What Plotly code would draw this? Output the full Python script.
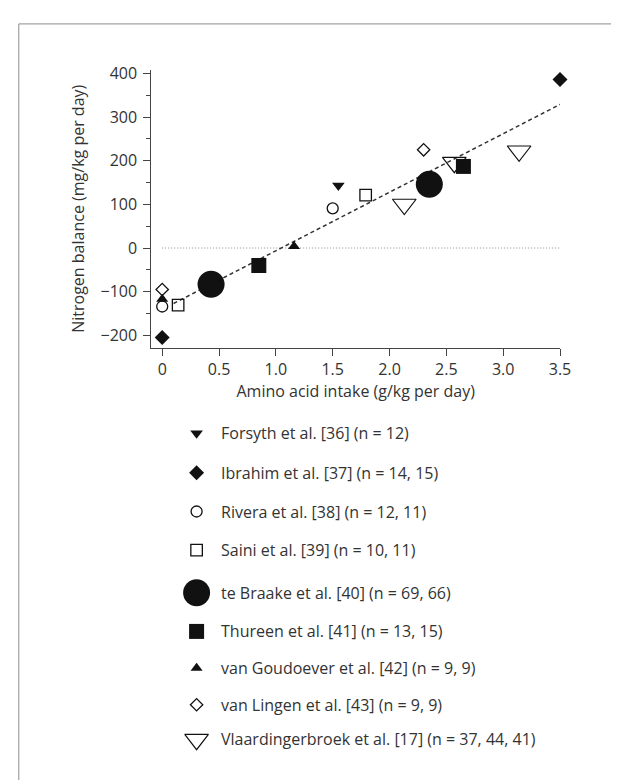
import plotly.graph_objects as go

# ---------------- data ----------------
studies = [
    "Forsyth et al. [36] (n = 12)",
    "Ibrahim et al. [37] (n = 14, 15)",
    "Rivera et al. [38] (n = 12, 11)",
    "Saini et al. [39] (n = 10, 11)",
    "te Braake et al. [40] (n = 69, 66)",
    "Thureen et al. [41] (n = 13, 15)",
    "van Goudoever et al. [42] (n = 9, 9)",
    "van Lingen et al. [43] (n = 9, 9)",
    "Vlaardingerbroek et al. [17] (n = 37, 44, 41)",
]
forsyth_x = [1.55]
forsyth_y = [143]
ibrahim_x = [0.0, 3.5]
ibrahim_y = [-205, 386]
rivera_x = [0.0, 1.5]
rivera_y = [-134, 91]
saini_x = [0.14, 1.79]
saini_y = [-131, 121]
tebraake_x = [0.43, 2.35]
tebraake_y = [-83, 146]
thureen_x = [0.85, 2.65]
thureen_y = [-40, 187]
vangoudoever_x = [0.0, 1.16]
vangoudoever_y = [-117, 4]
vanlingen_x = [0.0, 2.30]
vanlingen_y = [-95, 225]
vlaardingerbroek_x = [2.13, 2.57, 3.14]
vlaardingerbroek_y = [100, 196, 222]

reg_x = [0.1, 3.5]
reg_y = [-127, 329]
zero_x = [0.0, 3.5]
zero_y = [0, 0]

x_tickvals = [0, 0.5, 1.0, 1.5, 2.0, 2.5, 3.0, 3.5]
x_ticktext = ["0", "0.5", "1.0", "1.5", "2.0", "2.5", "3.0", "3.5"]
y_tickvals = [-200, -100, 0, 100, 200, 300, 400]
y_minor_tickvals = [-150, -50, 50, 150, 250, 350]

series_x = [forsyth_x, ibrahim_x, rivera_x, saini_x, tebraake_x, thureen_x,
            vangoudoever_x, vanlingen_x, vlaardingerbroek_x]
series_y = [forsyth_y, ibrahim_y, rivera_y, saini_y, tebraake_y, thureen_y,
            vangoudoever_y, vanlingen_y, vlaardingerbroek_y]

# ---------------- styles ----------------
INK = "#111111"
TXT = "#333333"
FONT = "Open Sans"
styles = [
    dict(symbol="triangle-down", size=11, color=INK, line=dict(width=0)),
    dict(symbol="diamond", size=11.5, color=INK, line=dict(width=0)),
    dict(symbol="circle-open", size=11, color=INK, line=dict(width=1.3, color=INK)),
    dict(symbol="square-open", size=11.5, color=INK, line=dict(width=1.3, color=INK)),
    dict(symbol="circle", size=27, color=INK, line=dict(width=0)),
    dict(symbol="square", size=15, color=INK, line=dict(width=0)),
    dict(symbol="triangle-up", size=10.5, color=INK, line=dict(width=0)),
    dict(symbol="diamond-open", size=9.5, color=INK, line=dict(width=1.3, color=INK)),
    dict(symbol="triangle-down-open", size=20.5, color=INK, line=dict(width=1.2, color=INK)),
]

W, H = 619, 780
plot_left, plot_right, plot_top, plot_bottom = 146, 562, 55, 336
legend_marker_x = 192
legend_text_x = 215
legend_rows = [422, 462, 501, 540, 583, 622, 659, 696, 731]

fig = go.Figure()

# zero reference line
fig.add_trace(go.Scatter(x=zero_x, y=zero_y, mode="lines",
                         line=dict(color="#8a8a8a", width=1, dash="1px,2px"),
                         hoverinfo="skip", showlegend=False))
# regression line
fig.add_trace(go.Scatter(x=reg_x, y=reg_y, mode="lines",
                         line=dict(color="#333333", width=1.5, dash="4px,3px"),
                         hoverinfo="skip", showlegend=False))

for name, xs, ys, st in zip(studies, series_x, series_y, styles):
    fig.add_trace(go.Scatter(x=xs, y=ys, mode="markers", name=name,
                             marker=st, cliponaxis=False, showlegend=False))

# custom legend (hidden pixel axis)
for name, st, ry in zip(studies, styles, legend_rows):
    fig.add_trace(go.Scatter(x=[legend_marker_x], y=[ry], mode="markers",
                             marker=st, xaxis="x2", yaxis="y2",
                             cliponaxis=False, showlegend=False, hoverinfo="skip"))
    fig.add_annotation(x=legend_text_x, y=ry, xref="x2", yref="y2", text=name,
                       showarrow=False, xanchor="left", yanchor="middle",
                       font=dict(family=FONT, size=16, color=TXT))

axis_common = dict(showline=True, linecolor="#444444", linewidth=1.2,
                   ticks="outside", ticklen=7, tickwidth=1.2, tickcolor="#444444",
                   showgrid=False, zeroline=False,
                   tickfont=dict(family=FONT, size=16, color=TXT))

fig.update_layout(
    width=W, height=H,
    margin=dict(l=0, r=0, t=0, b=0),
    paper_bgcolor="white", plot_bgcolor="rgba(0,0,0,0)",
    font=dict(family=FONT, size=16, color=TXT),
    xaxis=dict(domain=[plot_left / W, plot_right / W], range=[-0.095, 3.5],
               tickvals=x_tickvals, ticktext=x_ticktext,
               title=dict(text="Amino acid intake (g/kg per day)",
                          font=dict(family=FONT, size=16, color=TXT), standoff=6),
               anchor="y", **axis_common),
    yaxis=dict(domain=[(H - plot_bottom) / H, (H - plot_top) / H], range=[-229, 409],
               tickvals=y_tickvals, ticklabelstandoff=3,
               minor=dict(tickvals=y_minor_tickvals, ticks="outside",
                          ticklen=4, tickwidth=1.2, tickcolor="#444444"),
               title=dict(text="Nitrogen balance (mg/kg per day)",
                          font=dict(family=FONT, size=16, color=TXT), standoff=11),
               anchor="x", **axis_common),
    xaxis2=dict(domain=[0, 1], range=[0, W], visible=False, anchor="y2"),
    yaxis2=dict(domain=[0, 1], range=[H, 0], visible=False, anchor="x2"),
    shapes=[
        dict(type="line", xref="paper", yref="paper", x0=11 / W, x1=1.0,
             y0=(H - 9) / H, y1=(H - 9) / H, line=dict(color="#8c8c8c", width=1)),
        dict(type="line", xref="paper", yref="paper", x0=11 / W, x1=11 / W,
             y0=0.0, y1=(H - 9) / H, line=dict(color="#8c8c8c", width=1)),
    ],
)

fig.write_html("out.html")
